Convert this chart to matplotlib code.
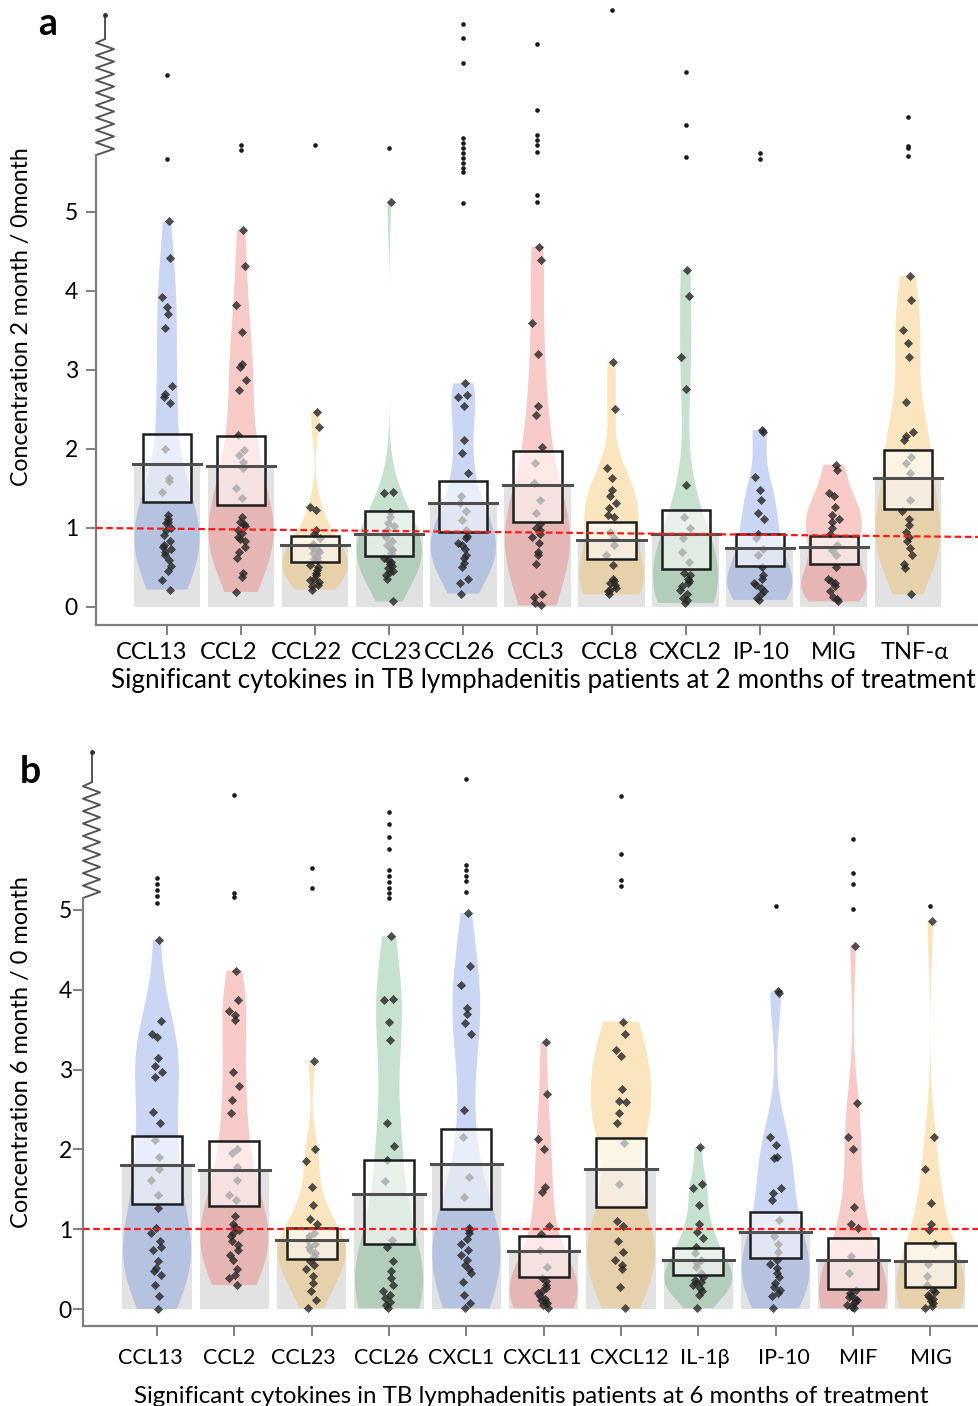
import numpy as np
import matplotlib.pyplot as plt
import matplotlib.transforms as mtransforms
from matplotlib.patches import Rectangle

plt.rcParams['font.family'] = ['Lato', 'DejaVu Sans']

# ---- 2 months / 0 months ----
labels_a = ['CCL13', 'CCL2', 'CCL22', 'CCL23', 'CCL26', 'CCL3', 'CCL8', 'CXCL2', 'IP-10', 'MIG', 'TNF-α']
means_a = [1.81, 1.79, 0.78, 0.93, 1.32, 1.54, 0.85, 0.93, 0.75, 0.76, 1.63]
box_lo_a = [1.33, 1.29, 0.57, 0.65, 0.95, 1.07, 0.61, 0.48, 0.52, 0.54, 1.24]
box_hi_a = [2.19, 2.16, 0.90, 1.22, 1.60, 1.97, 1.07, 1.23, 0.92, 0.90, 1.99]
points_a = [
    [4.88, 4.42, 3.92, 3.80, 3.71, 3.53, 2.80, 2.70, 2.66, 2.58, 2.00, 1.63, 1.59, 1.46, 1.16, 1.12, 1.06, 1.00, 0.91, 0.78, 0.74, 0.66, 0.59, 0.45, 0.34, 0.22,
     1.08, 0.97, 0.84, 0.76, 0.70, 0.52],
    [4.77, 4.31, 3.82, 3.48, 3.08, 3.04, 2.87, 2.75, 2.18, 1.99, 1.92, 1.84, 1.76, 1.50, 1.38, 1.14, 1.08, 1.02, 0.97, 0.89, 0.83, 0.70, 0.43, 0.38, 0.19,
     1.05, 0.94, 0.86, 0.76, 0.62],
    [2.47, 2.28, 1.27, 1.23, 0.97, 0.92, 0.87, 0.80, 0.76, 0.72, 0.68, 0.63, 0.59, 0.53, 0.47, 0.43, 0.36, 0.32, 0.27, 0.22,
     0.70, 0.61, 0.50, 0.40, 0.34, 0.28],
    [5.13, 1.46, 1.44, 1.20, 1.14, 1.06, 1.02, 0.97, 0.89, 0.83, 0.78, 0.72, 0.68, 0.62, 0.57, 0.55, 0.49, 0.46, 0.40, 0.36, 0.07,
     0.60, 0.52, 0.44, 0.93, 0.74],
    [2.83, 2.68, 2.66, 2.55, 2.11, 1.95, 1.69, 1.40, 1.31, 1.22, 1.10, 0.97, 0.87, 0.81, 0.74, 0.62, 0.51, 0.36, 0.30, 0.17,
     0.90, 0.78, 0.66, 0.56],
    [4.56, 4.39, 3.59, 3.20, 2.54, 2.43, 2.03, 1.82, 1.57, 1.35, 1.19, 1.05, 0.97, 0.89, 0.81, 0.66, 0.55, 0.17, 0.13, 0.05, 0.02,
     1.00, 0.92, 0.70],
    [3.10, 2.51, 1.76, 1.63, 1.48, 1.40, 1.31, 1.25, 1.16, 1.14, 0.95, 0.87, 0.78, 0.66, 0.53, 0.36, 0.30, 0.24, 0.20, 0.16,
     0.28, 0.22, 0.33],
    [4.27, 3.94, 3.17, 2.76, 1.54, 1.14, 1.00, 0.87, 0.70, 0.57, 0.43, 0.36, 0.30, 0.22, 0.16, 0.09, 0.05,
     0.40, 0.26, 0.12, 0.33],
    [2.24, 2.22, 1.65, 1.48, 1.35, 1.19, 1.12, 0.93, 0.87, 0.74, 0.66, 0.51, 0.36, 0.30, 0.24, 0.17, 0.09,
     0.20, 0.28, 0.12, 0.40],
    [1.80, 1.74, 1.44, 1.40, 1.27, 1.16, 1.12, 1.00, 0.93, 0.78, 0.72, 0.66, 0.51, 0.36, 0.30, 0.26, 0.13, 0.07,
     0.20, 0.33, 0.10, 1.08],
    [4.19, 3.89, 3.51, 3.34, 3.16, 2.60, 2.22, 2.16, 2.11, 1.90, 1.82, 1.70, 1.35, 1.21, 1.04, 0.89, 0.83, 0.66, 0.55, 0.49, 0.16,
     0.95, 0.75, 1.12],
]
# outliers sit on the compressed part of the axis above the break
outliers_a = [
    [5.67, 6.73],
    [5.78, 5.85],
    [5.85],
    [5.81],
    [5.11, 5.51, 5.56, 5.62, 5.68, 5.75, 5.81, 5.87, 5.94, 6.89, 7.20, 7.38],
    [5.13, 5.22, 5.76, 5.85, 5.91, 5.97, 6.29, 7.13],
    [7.56],
    [5.70, 6.10, 6.77],
    [5.67, 5.75],
    [],
    [5.71, 5.81, 5.84, 6.20],
]
ref_line_a = [1.0, 0.886]

# ---- 6 months / 0 months ----
labels_b = ['CCL13', 'CCL2', 'CCL23', 'CCL26', 'CXCL1', 'CXCL11', 'CXCL12', 'IL-1β', 'IP-10', 'MIF', 'MIG']
means_b = [1.81, 1.74, 0.86, 1.44, 1.82, 0.73, 1.76, 0.61, 0.97, 0.62, 0.60]
box_lo_b = [1.32, 1.29, 0.63, 0.82, 1.25, 0.40, 1.28, 0.43, 0.64, 0.25, 0.28]
box_hi_b = [2.17, 2.10, 1.02, 1.87, 2.26, 0.92, 2.14, 0.76, 1.21, 0.89, 0.83]
points_b = [
    [4.62, 3.61, 3.45, 3.41, 3.14, 3.04, 2.97, 2.91, 2.47, 2.33, 2.12, 1.91, 1.75, 1.62, 1.43, 1.26, 1.01, 0.78, 0.74, 0.47, 0.42, 0.30, 0.16, 0.00,
     0.95, 0.85, 0.60, 0.52],
    [4.24, 3.87, 3.73, 3.69, 3.62, 2.97, 2.80, 2.62, 2.46, 2.01, 1.95, 1.78, 1.62, 1.43, 1.37, 1.16, 1.07, 0.99, 0.91, 0.85, 0.74, 0.62, 0.50, 0.43, 0.39, 0.30,
     1.03, 0.95, 0.80, 0.68],
    [3.11, 2.01, 1.86, 1.53, 1.30, 1.13, 1.07, 0.91, 0.87, 0.82, 0.74, 0.66, 0.55, 0.50, 0.41, 0.33, 0.22, 0.11, 0.01,
     0.78, 0.70, 0.60, 0.95],
    [4.67, 3.89, 3.87, 3.60, 3.37, 2.33, 2.04, 1.87, 1.60, 0.87, 0.78, 0.47, 0.39, 0.22, 0.18, 0.09, 0.01,
     0.30, 0.14, 0.05, 0.60],
    [4.96, 4.30, 4.06, 3.77, 3.70, 3.58, 3.45, 2.49, 2.16, 1.66, 1.40, 1.01, 0.99, 0.82, 0.74, 0.62, 0.55, 0.45, 0.34, 0.18, 0.07, 0.01,
     0.95, 0.88, 0.68, 0.50],
    [3.34, 2.69, 2.13, 2.01, 1.53, 1.47, 1.04, 0.94, 0.74, 0.53, 0.39, 0.30, 0.26, 0.20, 0.13, 0.09, 0.05, 0.01,
     0.16, 0.11, 0.07, 0.22, 0.35],
    [3.60, 3.45, 3.25, 3.17, 2.76, 2.61, 2.59, 2.46, 2.33, 2.08, 1.57, 1.04, 0.72, 0.62, 0.55, 0.50, 0.28, 0.01,
     1.10, 0.85],
    [2.03, 1.57, 1.51, 1.30, 1.07, 0.97, 0.89, 0.78, 0.70, 0.62, 0.53, 0.45, 0.34, 0.30, 0.26, 0.18, 0.01,
     0.40, 0.36, 0.32, 0.22, 0.58],
    [3.98, 3.96, 2.16, 2.06, 1.91, 1.89, 1.51, 1.45, 1.37, 1.12, 0.91, 0.82, 0.72, 0.57, 0.51, 0.45, 0.33, 0.24, 0.16, 0.01,
     0.40, 0.28, 0.20, 0.62],
    [4.55, 2.58, 2.16, 2.00, 1.28, 1.07, 1.01, 0.66, 0.45, 0.24, 0.18, 0.13, 0.09, 0.05, 0.01,
     0.07, 0.03, 0.11, 0.15, 0.20],
    [4.86, 2.16, 1.75, 1.33, 1.07, 0.99, 0.82, 0.57, 0.41, 0.24, 0.18, 0.13, 0.07, 0.01,
     0.04, 0.10, 0.15, 0.21, 0.30],
]
outliers_b = [
    [5.09, 5.18, 5.25, 5.33, 5.40],
    [5.16, 5.21, 6.44],
    [5.28, 5.53],
    [5.15, 5.21, 5.28, 5.35, 5.43, 5.50, 5.76, 5.91, 6.08, 6.23],
    [5.23, 5.36, 5.43, 5.50, 5.56, 6.64],
    [],
    [5.30, 5.38, 5.70, 6.43],
    [],
    [5.05],
    [5.01, 5.32, 5.46, 5.89],
    [5.05],
]
ref_line_b = [1.0, 1.0]

violin_colors = ['#5b82dc', '#ec5a55', '#f2b038', '#4ea466']

# small horizontal nudges (px) of the category labels
label_dx_a = [-15, -12, -9, -3, -4, -2, -2, 0, 2, 0, 7]
label_dx_b = [-7, -5, -8, -3, -5, -1, 8, 7, 8, 5, 1]


def draw_panel(ax, labels, means, lo, hi, pts, outs, ref, ylim, xlim, y_break, zig_top, line_top, amp,
               label_dx, label_size, xpad, ypad):
    n = len(labels)
    pos = np.arange(n)
    ax.set_xlim(*xlim)
    ax.set_ylim(*ylim)

    # grey mean bars first, violins over them
    ax.bar(pos, means, width=0.9, color='#e2e2e2', zorder=1)
    vp = ax.violinplot(pts, positions=pos, widths=0.88, showextrema=False, bw_method=0.42)
    for i, body in enumerate(vp['bodies']):
        body.set_facecolor(violin_colors[i % 4])
        body.set_edgecolor('none')
        body.set_alpha(0.32)
        body.set_zorder(2)

    # jittered points
    for i, p in enumerate(pts):
        k = np.arange(len(p))
        xj = i + 0.05 * np.sin(k * 2.3) + 0.025 * np.cos(k * 5.1)
        ax.scatter(xj, p, marker='D', s=22, color='#262626', alpha=0.8, lw=0, zorder=3)
        if outs[i]:
            ax.scatter(np.full(len(outs[i]), i), outs[i], marker='o', s=11,
                       color='#1a1a1a', lw=0, zorder=3, clip_on=False)

    # boxes and mean lines
    for i in range(n):
        ax.add_patch(Rectangle((i - 0.325, lo[i]), 0.65, hi[i] - lo[i], facecolor='white',
                               alpha=0.6, edgecolor='none', zorder=4))
        ax.add_patch(Rectangle((i - 0.325, lo[i]), 0.65, hi[i] - lo[i], facecolor='none',
                               edgecolor='#1e1e1e', lw=1.8, zorder=5))
        ax.plot([i - 0.46, i + 0.46], [means[i], means[i]], color='#505050', lw=2.2, zorder=5)

    ax.plot(list(xlim), ref, color='#ff1a1a', lw=1.6, ls=(0, (3, 1.6)), zorder=6)

    # axes styling
    for s in ['top', 'right']:
        ax.spines[s].set_visible(False)
    for s in ['left', 'bottom']:
        ax.spines[s].set_color('#7f7f7f')
        ax.spines[s].set_linewidth(1.6)
    ax.spines['left'].set_bounds(ylim[0], y_break)
    ax.set_yticks(range(6))
    ax.set_xticks(pos)
    ax.set_xticklabels(labels)
    ax.tick_params(axis='both', colors='#7f7f7f', labelcolor='black', width=1.4, length=7,
                   labelsize=16.5)
    ax.tick_params(axis='x', labelsize=label_size, pad=xpad)
    ax.tick_params(axis='y', pad=ypad)
    for lab, dx in zip(ax.get_xticklabels(), label_dx):
        lab.set_transform(lab.get_transform() +
                          mtransforms.ScaledTranslation(dx / 100, 0, ax.figure.dpi_scale_trans))

    # broken axis: zigzag above the break, then a short stem with an end dot
    tr = ax.get_yaxis_transform()
    n_peaks = 9
    zy = np.linspace(y_break, zig_top, 2 * n_peaks + 1)
    zx = np.zeros_like(zy)
    zx[1::2] = amp
    zx = np.append(zx, amp / 2)
    zy = np.append(zy, zig_top + 0.05)
    ax.plot(zx, zy, color='#555555', lw=1.4, transform=tr, clip_on=False)
    ax.plot([amp / 2, amp / 2], [zig_top + 0.05, line_top], color='#555555', lw=1.4,
            transform=tr, clip_on=False)
    ax.plot([amp / 2], [line_top], 'o', ms=2.5, color='#333333', transform=tr, clip_on=False)


fig = plt.figure(figsize=(9.79, 14.06), dpi=100)
W, H = 979, 1406

ax_a = fig.add_axes([96 / W, 1 - 625 / H, (979 - 96) / W, 620 / H])
draw_panel(ax_a, labels_a, means_a, box_lo_a, box_hi_a, points_a, outliers_a, ref_line_a,
           (-0.228, 7.62), (-0.958, 10.96), 5.72, 7.14, 7.49, 0.0204, label_dx_a, 17, 5, 6)

ax_b = fig.add_axes([83 / W, 1 - 1326 / H, (979 - 83) / W, 586 / H])
draw_panel(ax_b, labels_b, means_b, box_lo_b, box_hi_b, points_b, outliers_b, ref_line_b,
           (-0.213, 7.13), (-0.957, 10.63), 5.15, 6.55, 6.98, 0.019, label_dx_b, 15.5, 9, 1)

fig.text(543 / W, 1 - 688 / H, 'Significant cytokines in TB lymphadenitis patients at 2 months of treatment',
         ha='center', va='baseline', fontsize=18.8)
fig.text(531 / W, 1 - 1403 / H, 'Significant cytokines in TB lymphadenitis patients at 6 months of treatment',
         ha='center', va='baseline', fontsize=17.3)
fig.text(22 / W, 1 - 317 / H, 'Concentration 2 month / 0month', rotation=90,
         ha='center', va='center', fontsize=16.7)
fig.text(22 / W, 1 - 1052 / H, 'Concentration 6 month / 0 month', rotation=90,
         ha='center', va='center', fontsize=17)
fig.text(38 / W, 1 - 35 / H, 'a', fontsize=27, fontweight='bold', va='baseline')
fig.text(20 / W, 1 - 783 / H, 'b', fontsize=27, fontweight='bold', va='baseline')

fig.savefig('out.png', dpi=100)
